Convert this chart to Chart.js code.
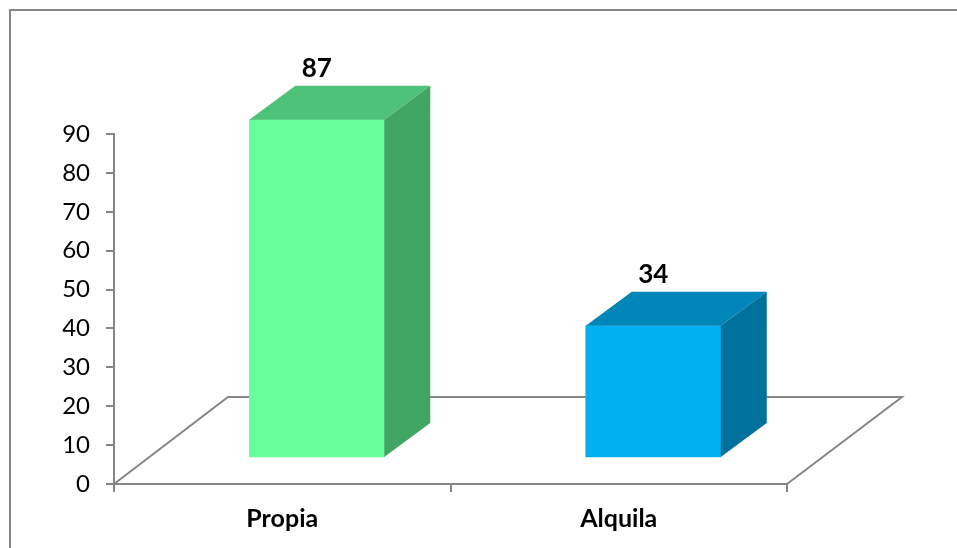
<!DOCTYPE html>
<html>
<head>
<meta charset="utf-8">
<style>
html,body{margin:0;padding:0;background:#fff;width:957px;height:548px;overflow:hidden}
#wrap{position:absolute;left:0;top:0;width:957px;height:548px}
</style>
<script src="https://cdn.jsdelivr.net/npm/chart.js@4"></script>
</head>
<body>
<div id="wrap"><canvas id="c" width="957" height="548"></canvas></div>
<script>
const categories = ["Propia", "Alquila"];
const values = [87, 34];
const frontColors = ["#66FF99", "#00B0F0"];
const topColors = ["#4FC27A", "#0086B8"];
const sideColors = ["#41A664", "#00719D"];
const yTicks = [0,10,20,30,40,50,60,70,80,90];

const FLOOR_DX = 114, FLOOR_DY = 87;
const BAR_DX = 34.5, BAR_DY = 26;
const DEPTH_DX = 46, DEPTH_DY = 34;
const GREY = "#868686";

const frame3d = {
  id: "frame3d",
  beforeDraw(chart) {
    const ctx = chart.ctx;
    ctx.save();
    ctx.strokeStyle = GREY;
    ctx.lineWidth = 2;
    ctx.beginPath();
    ctx.moveTo(10, 548);
    ctx.lineTo(10, 10);
    ctx.lineTo(957, 10);
    ctx.stroke();
    ctx.restore();
  },
  beforeDatasetsDraw(chart) {
    const {ctx, chartArea: a} = chart;
    ctx.save();
    ctx.strokeStyle = GREY;
    ctx.lineWidth = 2;
    ctx.beginPath();
    ctx.moveTo(a.left, a.bottom);
    ctx.lineTo(a.left + FLOOR_DX, a.bottom - FLOOR_DY);
    ctx.lineTo(a.right + FLOOR_DX + 1, a.bottom - FLOOR_DY);
    ctx.lineTo(a.right, a.bottom);
    ctx.stroke();
    ctx.restore();
    ctx.save();
    ctx.translate(BAR_DX, -BAR_DY);
  },
  afterDatasetsDraw(chart) {
    const ctx = chart.ctx;
    const meta = chart.getDatasetMeta(0);
    meta.data.forEach((bar, i) => {
      const l = bar.x - bar.width / 2, r = bar.x + bar.width / 2;
      const t = bar.y, b = bar.base;
      ctx.fillStyle = topColors[i];
      ctx.beginPath();
      ctx.moveTo(l, t);
      ctx.lineTo(l + DEPTH_DX, t - DEPTH_DY);
      ctx.lineTo(r + DEPTH_DX, t - DEPTH_DY);
      ctx.lineTo(r, t);
      ctx.closePath();
      ctx.fill();
      ctx.fillStyle = sideColors[i];
      ctx.beginPath();
      ctx.moveTo(r, t);
      ctx.lineTo(r + DEPTH_DX, t - DEPTH_DY);
      ctx.lineTo(r + DEPTH_DX, b - DEPTH_DY);
      ctx.lineTo(r, b);
      ctx.closePath();
      ctx.fill();
      ctx.fillStyle = "#000";
      ctx.font = "bold 26px Lato";
      ctx.textAlign = "center";
      ctx.textBaseline = "alphabetic";
      ctx.fillText(String(values[i]), bar.x, t - DEPTH_DY - 9);
    });
    ctx.restore();
  }
};

new Chart(document.getElementById("c"), {
  type: "bar",
  data: {
    labels: categories,
    datasets: [{
      data: values,
      backgroundColor: frontColors,
      borderWidth: 0,
      barThickness: 135,
      clip: false
    }]
  },
  options: {
    responsive: false,
    animation: false,
    devicePixelRatio: 1,
    layout: {padding: {left: 0, right: 170, top: 134, bottom: 0}},
    plugins: {legend: {display: false}, tooltip: {enabled: false}},
    scales: {
      x: {
        afterFit(s) { s.height = 64; },
        grid: {drawOnChartArea: false, color: GREY, lineWidth: 2, tickLength: 8, tickColor: GREY},
        border: {color: GREY, width: 2},
        ticks: {color: "#000", font: {family: "Lato", size: 25, weight: "bold"}, padding: 12, maxRotation: 0}
      },
      y: {
        min: 0, max: 90,
        afterFit(s) { s.width = 114; },
        afterBuildTicks(s) { s.ticks = yTicks.map(v => ({value: v})); },
        grid: {drawOnChartArea: false, color: GREY, lineWidth: 2, tickLength: 8, tickColor: GREY},
        border: {color: GREY, width: 2},
        ticks: {color: "#000", font: {family: "Lato", size: 24}, padding: 16}
      }
    }
  },
  plugins: [frame3d]
});
</script>
</body>
</html>
